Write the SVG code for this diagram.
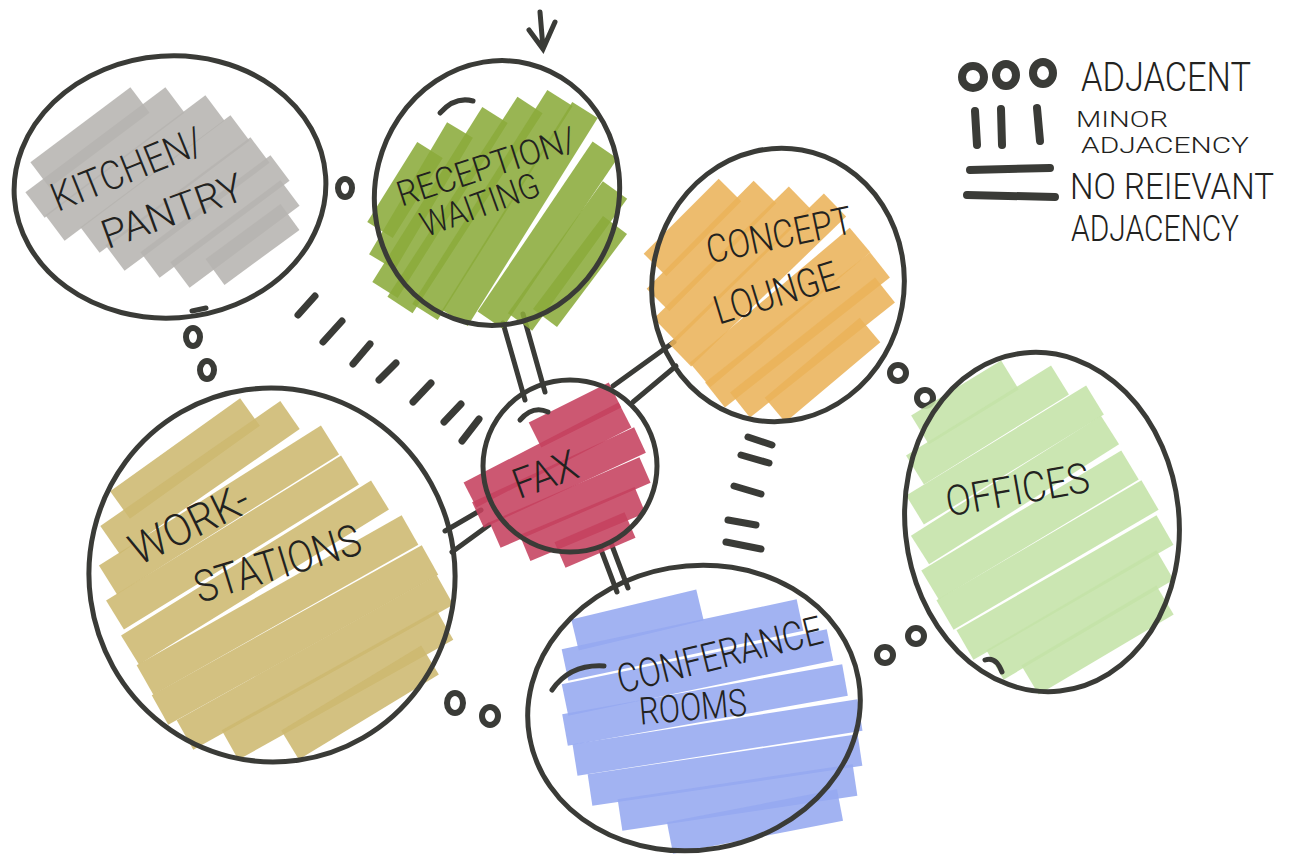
<svg xmlns="http://www.w3.org/2000/svg" width="1290" height="866" viewBox="0 0 1290 866">
<style>
.ring{fill:none;stroke:#3a3b37;stroke-width:5}
.tail{fill:none;stroke:#3a3b37;stroke-width:5;stroke-linecap:round}
.mk{fill:none;stroke:#3a3b37;stroke-width:6}
.dash{stroke:#3a3b37;stroke-width:7;stroke-linecap:round}
.dbl{stroke:#3a3b37;stroke-width:5;stroke-linecap:round}
.lg{stroke:#3a3b37;stroke-width:8;stroke-linecap:round;fill:none}
.hw{font-family:Roboto,"Liberation Sans",sans-serif;font-weight:300;fill:#222220;text-anchor:middle}
.blot line{stroke-linecap:butt;stroke-opacity:.88}
</style>
<rect width="1290" height="866" fill="#ffffff"/>

<g id="connectors">
  <g id="minor-kitchen-fax">
    <line class="dash" x1="298" y1="315" x2="315" y2="296"/>
    <line class="dash" x1="323" y1="342" x2="342" y2="321"/>
    <line class="dash" x1="353" y1="364" x2="370" y2="344"/>
    <line class="dash" x1="379" y1="380" x2="396" y2="363"/>
    <line class="dash" x1="413" y1="402" x2="431" y2="383"/>
    <line class="dash" x1="444" y1="422" x2="461" y2="404"/>
    <line class="dash" x1="462" y1="441" x2="479" y2="419"/>
  </g>
  <g id="minor-concept-conference">
    <line class="dash" x1="748" y1="437" x2="772" y2="445"/>
    <line class="dash" x1="741" y1="455" x2="769" y2="463"/>
    <line class="dash" x1="734" y1="486" x2="761" y2="494"/>
    <line class="dash" x1="728" y1="520" x2="756" y2="525"/>
    <line class="dash" x1="726" y1="542" x2="761" y2="549"/>
  </g>
  <g id="none-reception-fax">
    <line class="dbl" x1="503" y1="323" x2="525" y2="400"/>
    <line class="dbl" x1="523" y1="314" x2="545" y2="392"/>
  </g>
  <g id="none-fax-concept">
    <line class="dbl" x1="613" y1="386" x2="674" y2="342"/>
    <line class="dbl" x1="633" y1="402" x2="676" y2="366"/>
  </g>
  <g id="none-fax-workstations">
    <line class="dbl" x1="445" y1="531" x2="481" y2="510"/>
    <line class="dbl" x1="452" y1="552" x2="489" y2="525"/>
  </g>
  <g id="none-fax-conference">
    <line class="dbl" x1="600" y1="547" x2="617" y2="592"/>
    <line class="dbl" x1="611" y1="543" x2="628" y2="588"/>
  </g>
  <g id="adj-markers">
    <ellipse class="mk" cx="345" cy="188" rx="7" ry="9"/>
    <ellipse class="mk" cx="193" cy="337" rx="7" ry="9"/>
    <ellipse class="mk" cx="207" cy="370" rx="7" ry="9"/>
    <ellipse class="mk" cx="455" cy="703" rx="8" ry="10"/>
    <ellipse class="mk" cx="490" cy="716" rx="8" ry="9"/>
    <ellipse class="mk" cx="898" cy="373" rx="8" ry="8"/>
    <ellipse class="mk" cx="925" cy="398" rx="8" ry="8"/>
    <ellipse class="mk" cx="885" cy="655" rx="8" ry="8"/>
    <ellipse class="mk" cx="916" cy="636" rx="8" ry="8"/>
  </g>
  <g id="entry-arrow">
    <path class="tail" d="M540,12 L543,48 M529,30 L543,49 L555,22"/>
  </g>
</g>

<g id="kitchen">
  <g class="blot" stroke="#b6b4b1" stroke-width="32">
    <line x1="40" y1="175" x2="140" y2="100"/>
    <line x1="35" y1="205" x2="175" y2="100"/>
    <line x1="55" y1="228" x2="215" y2="108"/>
    <line x1="90" y1="240" x2="240" y2="128"/>
    <line x1="115" y1="258" x2="260" y2="150"/>
    <line x1="150" y1="265" x2="280" y2="168"/>
    <line x1="180" y1="275" x2="290" y2="193"/>
    <line x1="215" y1="272" x2="290" y2="217"/>
  </g>
  <ellipse class="ring" cx="170" cy="187" rx="156" ry="131" transform="rotate(-4 170 187)"/>
  <path class="tail" d="M192,311 L206,308" stroke-width="7"/>
  <text class="hw" font-size="40" transform="translate(132,182) rotate(-22)" textLength="160" lengthAdjust="spacingAndGlyphs">KITCHEN/</text>
  <text class="hw" font-size="40" transform="translate(177,224) rotate(-20)" textLength="148" lengthAdjust="spacingAndGlyphs">PANTRY</text>
</g>

<g id="reception">
  <g class="blot" stroke="#8bab3b" stroke-width="30">
    <line x1="380" y1="230" x2="430" y2="150"/>
    <line x1="382" y1="262" x2="460" y2="130"/>
    <line x1="385" y1="290" x2="495" y2="115"/>
    <line x1="400" y1="305" x2="530" y2="105"/>
    <line x1="425" y1="312" x2="560" y2="98"/>
    <line x1="455" y1="318" x2="585" y2="110"/>
    <line x1="490" y1="320" x2="605" y2="150"/>
    <line x1="520" y1="322" x2="615" y2="190"/>
    <line x1="545" y1="318" x2="615" y2="225"/>
  </g>
  <ellipse class="ring" cx="497" cy="193" rx="122" ry="133" transform="rotate(14 497 193)"/>
  <path class="tail" d="M440,113 Q455,96 473,101"/>
  <text class="hw" font-size="35" transform="translate(490,178) rotate(-18)" textLength="186" lengthAdjust="spacingAndGlyphs">RECEPTION/</text>
  <text class="hw" font-size="35" transform="translate(484,216) rotate(-20)" textLength="124" lengthAdjust="spacingAndGlyphs">WAITING</text>
</g>

<g id="concept">
  <g class="blot" stroke="#ebb35a" stroke-width="32">
    <line x1="655" y1="265" x2="730" y2="190"/>
    <line x1="658" y1="300" x2="765" y2="192"/>
    <line x1="665" y1="330" x2="800" y2="198"/>
    <line x1="680" y1="355" x2="835" y2="205"/>
    <line x1="700" y1="375" x2="860" y2="240"/>
    <line x1="715" y1="395" x2="880" y2="265"/>
    <line x1="740" y1="405" x2="885" y2="290"/>
    <line x1="775" y1="410" x2="870" y2="330"/>
  </g>
  <ellipse class="ring" cx="778" cy="285" rx="126" ry="137" transform="rotate(10 778 285)"/>
  <text class="hw" font-size="39" transform="translate(782,248) rotate(-12)" textLength="148" lengthAdjust="spacingAndGlyphs">CONCEPT</text>
  <text class="hw" font-size="40" transform="translate(780,306) rotate(-17)" textLength="128" lengthAdjust="spacingAndGlyphs">LOUNGE</text>
</g>

<g id="fax">
  <g class="blot" stroke="#c5415f" stroke-width="28">
    <line x1="535" y1="435" x2="615" y2="395"/>
    <line x1="470" y1="495" x2="625" y2="415"/>
    <line x1="478" y1="515" x2="640" y2="440"/>
    <line x1="495" y1="535" x2="645" y2="470"/>
    <line x1="525" y1="548" x2="640" y2="500"/>
    <line x1="560" y1="555" x2="630" y2="525"/>
  </g>
  <ellipse class="ring" cx="570" cy="466" rx="87" ry="86"/>
  <path class="tail" d="M520,420 Q533,405 548,412"/>
  <text class="hw" font-size="42" transform="translate(550,488) rotate(-20)" textLength="66" lengthAdjust="spacingAndGlyphs">FAX</text>
</g>

<g id="workstations">
  <g class="blot" stroke="#cdb86f" stroke-width="34">
    <line x1="120" y1="505" x2="250" y2="412"/>
    <line x1="110" y1="540" x2="290" y2="415"/>
    <line x1="108" y1="580" x2="330" y2="440"/>
    <line x1="115" y1="615" x2="350" y2="470"/>
    <line x1="130" y1="650" x2="380" y2="495"/>
    <line x1="145" y1="680" x2="410" y2="530"/>
    <line x1="160" y1="710" x2="430" y2="560"/>
    <line x1="185" y1="735" x2="445" y2="590"/>
    <line x1="230" y1="745" x2="445" y2="625"/>
    <line x1="290" y1="745" x2="430" y2="660"/>
  </g>
  <ellipse class="ring" cx="272" cy="575" rx="183" ry="187" transform="rotate(-8 272 575)"/>
  <text class="hw" font-size="44" transform="translate(196,538) rotate(-26)" textLength="128" lengthAdjust="spacingAndGlyphs">WORK-</text>
  <text class="hw" font-size="44" transform="translate(282,578) rotate(-17)" textLength="172" lengthAdjust="spacingAndGlyphs">STATIONS</text>
</g>

<g id="offices">
  <g class="blot" stroke="#c4e3a7" stroke-width="34">
    <line x1="920" y1="430" x2="1010" y2="375"/>
    <line x1="915" y1="470" x2="1060" y2="380"/>
    <line x1="915" y1="510" x2="1095" y2="400"/>
    <line x1="920" y1="550" x2="1110" y2="430"/>
    <line x1="930" y1="585" x2="1130" y2="465"/>
    <line x1="945" y1="615" x2="1150" y2="495"/>
    <line x1="965" y1="645" x2="1165" y2="530"/>
    <line x1="995" y1="665" x2="1165" y2="565"/>
    <line x1="1030" y1="680" x2="1165" y2="600"/>
  </g>
  <ellipse class="ring" cx="1042" cy="522" rx="137" ry="170" transform="rotate(-6 1042 522)"/>
  <path class="tail" d="M985,660 Q996,656 1002,672"/>
  <text class="hw" font-size="42" transform="translate(1020,504) rotate(-10)" textLength="145" lengthAdjust="spacingAndGlyphs">OFFICES</text>
</g>

<g id="conference">
  <g class="blot" stroke="#95a8f0" stroke-width="32">
    <line x1="575" y1="635" x2="700" y2="605"/>
    <line x1="565" y1="665" x2="800" y2="615"/>
    <line x1="565" y1="700" x2="830" y2="645"/>
    <line x1="565" y1="730" x2="845" y2="680"/>
    <line x1="575" y1="760" x2="860" y2="715"/>
    <line x1="590" y1="790" x2="860" y2="750"/>
    <line x1="620" y1="815" x2="855" y2="780"/>
    <line x1="670" y1="838" x2="840" y2="805"/>
  </g>
  <ellipse class="ring" cx="694" cy="708" rx="167" ry="142" transform="rotate(-10 694 708)"/>
  <path class="tail" d="M552,690 Q570,664 604,666"/>
  <text class="hw" font-size="40" transform="translate(723,668) rotate(-14)" textLength="210" lengthAdjust="spacingAndGlyphs">CONFERANCE</text>
  <text class="hw" font-size="38" transform="translate(694,720) rotate(-5)" textLength="108" lengthAdjust="spacingAndGlyphs">ROOMS</text>
</g>

<g id="legend">
  <ellipse class="lg" cx="973" cy="77" rx="11" ry="11"/>
  <ellipse class="lg" cx="1006" cy="75" rx="10" ry="11"/>
  <ellipse class="lg" cx="1043" cy="73" rx="10" ry="11"/>
  <line class="lg" x1="975" y1="111" x2="977" y2="145"/>
  <line class="lg" x1="1001" y1="109" x2="1002" y2="145"/>
  <line class="lg" x1="1037" y1="108" x2="1040" y2="141"/>
  <line class="lg" x1="970" y1="170" x2="1050" y2="168"/>
  <line class="lg" x1="967" y1="195" x2="1055" y2="197"/>
  <text class="hw" font-size="40" x="1166" y="91" textLength="170" lengthAdjust="spacingAndGlyphs">ADJACENT</text>
  <text class="hw" font-size="22" x="1122" y="127" textLength="92" lengthAdjust="spacingAndGlyphs">MINOR</text>
  <text class="hw" font-size="22" x="1165" y="153" textLength="168" lengthAdjust="spacingAndGlyphs">ADJACENCY</text>
  <text class="hw" font-size="36" x="1172" y="199" textLength="204" lengthAdjust="spacingAndGlyphs">NO REIEVANT</text>
  <text class="hw" font-size="36" x="1155" y="241" textLength="168" lengthAdjust="spacingAndGlyphs">ADJACENCY</text>
</g>
</svg>
